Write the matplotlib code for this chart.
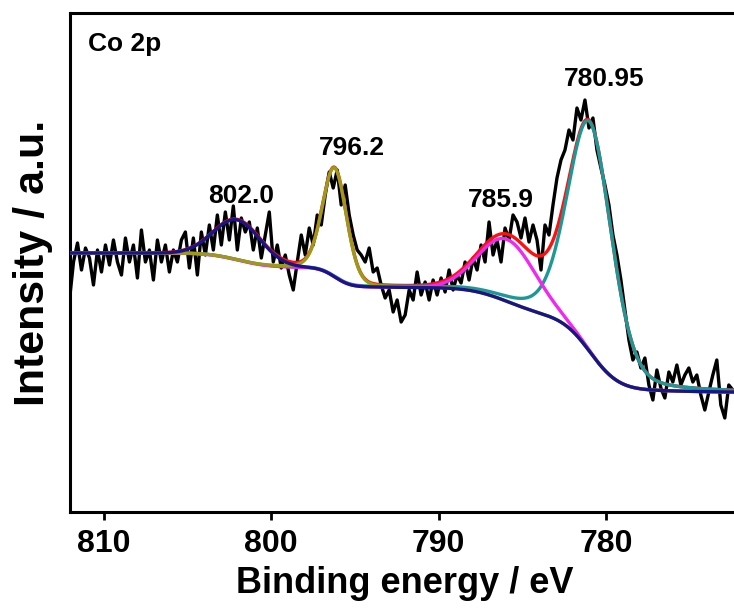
import numpy as np
import matplotlib.pyplot as plt

plt.rcParams['font.family'] = ['Liberation Sans', 'DejaVu Sans']
plt.rcParams['font.weight'] = 'bold'

# Co 2p raw spectrum (a.u.), from 812 eV down to 772.4 eV
counts = [212, 250, 269, 242, 264, 254, 227, 262, 240, 267, 247, 272, 250, 237, 274,
          250, 267, 234, 282, 250, 262, 232, 272, 250, 267, 240, 262, 250, 272,
          280, 244, 274, 237, 280, 257, 287, 262, 297, 267, 300, 272, 306, 262,
          294, 280, 290, 262, 284, 254, 277, 300, 250, 267, 244, 257, 237, 222,
          250, 277, 257, 284, 267, 297, 287, 317, 340, 324, 342, 307, 327, 297,
          277, 262, 257, 250, 264, 240, 244, 227, 214, 222, 200, 212, 190,
          197, 222, 212, 240, 217, 230, 212, 232, 217, 234, 220, 242, 222, 237,
          229, 250, 232, 254, 242, 267, 250, 290, 257, 272, 250, 284, 272, 297,
          290, 274, 294, 270, 287, 272, 242, 287, 277, 307, 334, 352, 362, 382,
          372, 404, 392, 412, 384, 394, 362, 344, 327, 307, 277, 257, 232, 202, 172,
          152, 160, 144, 154, 127, 112, 142, 124, 114, 140, 130, 147, 127, 137,
          144, 130, 137, 117, 102, 120, 137, 152, 107, 94, 127, 122]
energy = np.linspace(812.03, 772.43, len(counts))

# fitted peaks: centre (eV), height, FWHM (eV), lorentzian fraction
centres = [802.0, 796.2, 785.9, 780.95]
heights = [40, 109, 62, 230]
fwhms = [3.3, 1.7, 4.0, 3.1]
lor_frac = [0.0, 0.15, 0.0, 0.25]
peak_labels = ['802.0', '796.2', '785.9', '780.95']
label_pos = [(801.77, 309), (795.15, 357), (786.27, 305), (780.13, 426)]
colors = ['#16168a', '#9c9a18', '#f028f0', '#1e9896']

# shirley background end points
bg_high = 259
bg_low = 120

E = np.linspace(812.03, 772.43, 1200)


def pseudo_voigt(x, c, h, w, eta):
    g = np.exp(-4 * np.log(2) * ((x - c) / w) ** 2)
    l = 1.0 / (1 + 4 * ((x - c) / w) ** 2)
    return h * ((1 - eta) * g + eta * l)


peaks = [pseudo_voigt(E, c, h, w, eta)
         for c, h, w, eta in zip(centres, heights, fwhms, lor_frac)]
total = np.sum(peaks, axis=0)

# shirley: step proportional to peak area on the low energy side
cum = np.cumsum(total[::-1])[::-1]
bg = bg_low + (bg_high - bg_low) * cum / cum[0]

fig = plt.figure(figsize=(7.34, 6.08), dpi=100)
ax = fig.add_axes([70 / 734, 96 / 608, 670 / 734, 499 / 608])

ax.plot(energy, counts, color='black', lw=2.4, zorder=1)
ax.plot(E, bg + total, color='#ff1010', lw=2.4, zorder=2)
# teal, magenta, olive, then navy on top
for i in [3, 2, 1, 0]:
    ax.plot(E, bg + peaks[i], color=colors[i], lw=2.4, zorder=3 + (3 - i))

for txt, (x, y) in zip(peak_labels, label_pos):
    ax.text(x, y, txt, ha='center', va='baseline', fontsize=19, fontweight='bold')

ax.text(0.027, 0.924, 'Co 2p', transform=ax.transAxes, ha='left', va='baseline',
        fontsize=19, fontweight='bold')

ax.set_xlim(812, 772)
ax.set_ylim(0, 499)
ax.set_xticks([810, 800, 790, 780])
ax.set_yticks([])
ax.tick_params(axis='x', direction='out', length=6, width=2, labelsize=23, pad=6)
for s in ax.spines.values():
    s.set_linewidth(2.2)

ax.set_xlabel('Binding energy / eV', fontsize=26, fontweight='bold', labelpad=5)
ax.set_ylabel('Intensity / a.u.', fontsize=31, fontweight='bold', labelpad=12)

fig.savefig('out.png', dpi=100)
